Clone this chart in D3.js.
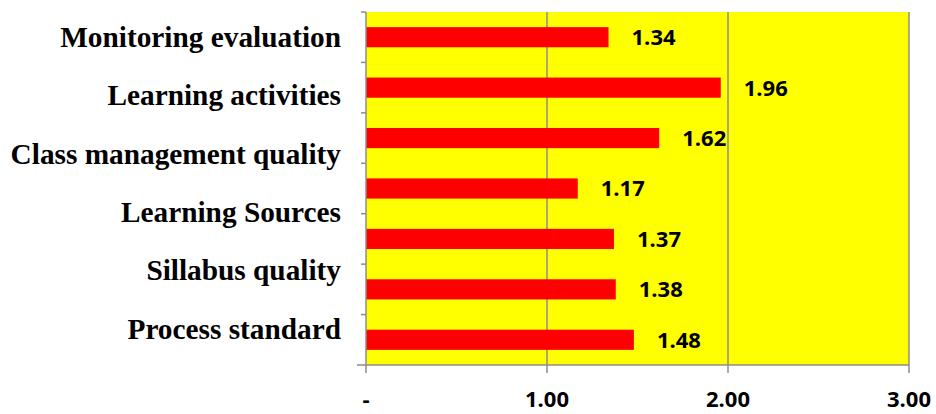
<!DOCTYPE html>
<html><head><meta charset="utf-8">
<script src="https://cdn.jsdelivr.net/npm/d3@7"></script>
<style>body{margin:0;background:#fff}svg{display:block}</style>
</head><body>
<script>
const categories = ["Monitoring evaluation","Learning activities","Class management quality","Learning Sources","Sillabus quality","Process standard"];
const barKeys = ["b1","b2","b3","b4","b5","b6","b7"];
const values = [1.34,1.96,1.62,1.17,1.37,1.38,1.48];
const xTicks = [0,1,2,3];
const xTickLabels = ["-","1.00","2.00","3.00"];

const W=936,H=414;
const m={top:12,left:366,right:27,bottom:49};
const iw=W-m.left-m.right, ih=H-m.top-m.bottom;
const svg=d3.select("body").append("svg").attr("width",W).attr("height",H);
const g=svg.append("g").attr("transform",`translate(${m.left},${m.top})`);

const x=d3.scaleLinear().domain([0,3]).range([0,iw]);
const y=d3.scaleBand().domain(barKeys).range([0,ih]).paddingInner(0.6).paddingOuter(0.3);
const yLab=d3.scalePoint().domain(categories).range([28,ih-33]);

g.append("rect").attr("width",iw).attr("height",ih).attr("fill","#ffff00");
const grid="#8c8c8c";
g.selectAll(".grid").data(xTicks.slice(1)).join("line")
 .attr("x1",d=>x(d)).attr("x2",d=>x(d)).attr("y1",0).attr("y2",ih)
 .attr("stroke",grid).attr("stroke-width",1.5);

g.selectAll(".bar").data(values).join("rect")
 .attr("x",0).attr("y",(d,i)=>y(barKeys[i])).attr("width",d=>x(d)).attr("height",y.bandwidth())
 .attr("fill","#ff0000");

g.selectAll(".val").data(values).join("text")
 .attr("x",d=>x(d)+23).attr("y",(d,i)=>y(barKeys[i])+y.bandwidth()/2+2)
 .attr("dominant-baseline","middle")
 .attr("font-family","'Open Sans',sans-serif").attr("font-weight","bold").attr("font-size",22)
 .attr("fill","#000").text(d=>d.toFixed(2));

// left axis line + ticks at band boundaries
g.append("line").attr("x1",0).attr("x2",0).attr("y1",0).attr("y2",ih).attr("stroke",grid).attr("stroke-width",1.5);
const bounds=barKeys.map((k,i)=>i*y.step());
g.selectAll(".lt").data(bounds).join("line")
 .attr("x1",-5).attr("x2",0).attr("y1",d=>d).attr("y2",d=>d).attr("stroke",grid).attr("stroke-width",1.5);
// bottom axis
g.append("line").attr("x1",-9).attr("x2",iw).attr("y1",ih).attr("y2",ih).attr("stroke",grid).attr("stroke-width",1.5);
g.selectAll(".bt").data(xTicks).join("line")
 .attr("x1",d=>x(d)).attr("x2",d=>x(d)).attr("y1",ih).attr("y2",ih+8).attr("stroke",grid).attr("stroke-width",1.5);
g.selectAll(".btl").data(xTicks).join("text")
 .attr("x",d=>x(d)).attr("y",ih+42).attr("text-anchor","middle")
 .attr("font-family","'Open Sans',sans-serif").attr("font-weight","bold").attr("font-size",22)
 .attr("fill","#000").text((d,i)=>xTickLabels[i]);

g.selectAll(".cat").data(categories).join("text")
 .attr("x",-25).attr("y",d=>yLab(d)).attr("text-anchor","end").attr("dominant-baseline","middle")
 .attr("font-family","'Liberation Serif','Times New Roman',serif").attr("font-weight","bold").attr("font-size",29.3)
 .attr("fill","#000").text(d=>d);
</script>
</body></html>
